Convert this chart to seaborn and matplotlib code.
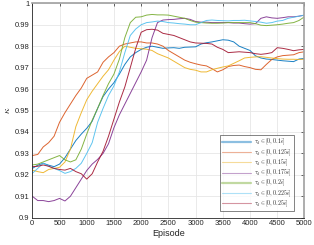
import pandas as pd
import matplotlib
matplotlib.use("Agg")
import matplotlib.pyplot as plt
from matplotlib.lines import Line2D
import seaborn as sns

# データ (図から読み取った値, 100 エピソードごと)
episodes = list(range(0, 5001, 100))

k_010 = [.923, .9245, .9254, .9245, .9238, .925, .928, .932, .936, .939,
         .9417, .945, .951, .9565, .960, .963, .967, .9715, .975, .977,
         .9785, .9795, .980, .9795, .979, .9792, .9793, .979, .9795, .9796,
         .9797, .981, .9816, .982, .9825, .983, .9828, .982, .980, .979,
         .978, .9755, .9745, .974, .9738, .9735, .9732, .973, .9728, .974, .9743]
k_0125 = [.929, .9295, .933, .935, .938, .9445, .949, .953, .957, .9605,
          .965, .9665, .968, .9725, .975, .977, .980, .981, .9815, .982,
          .982, .9815, .9815, .981, .980, .978, .9765, .975, .9735, .9725,
          .9718, .9712, .9708, .9695, .968, .969, .9705, .971, .9712, .9705,
          .970, .9692, .969, .9715, .9738, .975, .9756, .9758, .976, .977, .9774]
k_015 = [.9222, .9215, .921, .9225, .923, .9235, .926, .932, .9425, .949,
         .955, .959, .9625, .966, .969, .9735, .9775, .980, .9795, .979,
         .9788, .9786, .978, .9765, .9755, .9745, .973, .9715, .970, .9692,
         .9688, .968, .968, .969, .9697, .9703, .9708, .972, .9732, .9745,
         .9748, .975, .9751, .9748, .9745, .9742, .974, .9739, .9739, .9738, .9739]
k_0175 = [.910, .908, .908, .9075, .908, .909, .9078, .910, .914, .918,
          .922, .925, .9272, .930, .9345, .942, .948, .953, .958, .963,
          .968, .9735, .984, .991, .9922, .9924, .9925, .9928, .993, .9925,
          .9915, .9912, .9912, .991, .991, .991, .991, .9908, .9908, .9905,
          .9903, .9905, .993, .9937, .9932, .993, .9933, .9937, .9937, .994, .9945]
k_020 = [.9246, .925, .926, .927, .928, .929, .927, .926, .927, .932,
         .939, .9455, .951, .957, .9625, .967, .974, .984, .991, .9935,
         .9937, .9945, .9948, .9946, .9946, .9945, .994, .9935, .993, .992,
         .9912, .991, .9908, .9907, .9907, .9908, .991, .991, .991, .991,
         .991, .9905, .9898, .9896, .9898, .990, .9903, .9907, .991, .992, .9937]
k_0225 = [.9207, .923, .9254, .924, .923, .922, .9207, .9215, .923, .9254,
          .930, .935, .9445, .951, .957, .9615, .968, .977, .985, .988,
          .990, .991, .9913, .9917, .9915, .991, .9908, .9905, .9903, .990,
          .990, .991, .992, .9922, .992, .9919, .9918, .992, .992, .9921,
          .9918, .9915, .9912, .9907, .991, .9917, .992, .993, .9935, .994, .9945]
k_025 = [.9238, .924, .9246, .924, .923, .9225, .9222, .923, .9215, .9205,
         .918, .9205, .926, .931, .938, .946, .954, .961, .970, .979,
         .9865, .9877, .9879, .9875, .986, .9855, .985, .984, .983, .982,
         .9815, .9814, .9813, .981, .9795, .9785, .977, .9772, .9774, .9772,
         .977, .9765, .9762, .9765, .977, .9793, .979, .9785, .9779, .9783, .9785]

labels = [r'$\tau_d \in [0, 0.1\bar{e}]$', r'$\tau_d \in [0, 0.125\bar{e}]$',
          r'$\tau_d \in [0, 0.15\bar{e}]$', r'$\tau_d \in [0, 0.175\bar{e}]$',
          r'$\tau_d \in [0, 0.2\bar{e}]$', r'$\tau_d \in [0, 0.225\bar{e}]$',
          r'$\tau_d \in [0, 0.25\bar{e}]$']
series = [k_010, k_0125, k_015, k_0175, k_020, k_0225, k_025]

# MATLAB 標準の配色
colors = ['#0072BD', '#D95319', '#EDB120', '#7E2F8E', '#77AC30', '#4DBEEE', '#A2142F']

rows = []
for lab, vals in zip(labels, series):
    for ep, v in zip(episodes, vals):
        rows.append({'Episode': ep, 'kappa': v, 'case': lab})
df = pd.DataFrame(rows)

sns.set_theme(style="whitegrid")
plt.rcParams['font.family'] = ['Liberation Sans', 'DejaVu Sans']
plt.rcParams['mathtext.fontset'] = 'cm'

fig = plt.figure(figsize=(3.14, 2.45), dpi=100)
ax = fig.add_axes([0.1029, 0.1114, 0.8667, 0.8751])

sns.lineplot(data=df, x='Episode', y='kappa', hue='case', palette=colors,
             linewidth=0.7, alpha=0.9, ax=ax, legend=False)

ax.set_xlim(0, 5000)
ax.set_ylim(0.9, 1.0)
ax.set_xticks(range(0, 5001, 500))
ax.set_yticks([0.9, 0.91, 0.92, 0.93, 0.94, 0.95, 0.96, 0.97, 0.98, 0.99, 1.0])
ax.set_yticklabels(['0.9', '0.91', '0.92', '0.93', '0.94', '0.95', '0.96',
                    '0.97', '0.98', '0.99', '1'])
ax.set_facecolor('white')
ax.grid(True, color='#E6E6E6', linewidth=0.6)
ax.tick_params(direction='in', length=2.5, width=0.5, labelsize=5.5, colors='#262626',
               top=True, right=True, pad=2)
for side in ['left', 'bottom']:
    ax.spines[side].set_color('#262626')
    ax.spines[side].set_linewidth(0.6)
for side in ['top', 'right']:
    ax.spines[side].set_color('#A0A0A0')
    ax.spines[side].set_linewidth(1.2)

ax.set_xlabel('Episode', fontsize=6.5, color='#262626', labelpad=1)
ax.set_ylabel(r'$\kappa$', fontsize=7, color='#262626', labelpad=2)

handles = []
for i, c in enumerate(colors):
    lw = 1.6 if i in (0, 4) else 0.8
    handles.append(Line2D([0], [0], color=c, lw=lw, alpha=0.45))
leg = ax.legend(handles, labels, loc='lower right', bbox_to_anchor=(0.962, 0.031),
                borderaxespad=0, fontsize=4.3, frameon=True, fancybox=False,
                handlelength=4.8, handletextpad=0.5, labelspacing=0.0,
                borderpad=0.35)
leg.get_frame().set_edgecolor('#262626')
leg.get_frame().set_linewidth(0.5)

plt.savefig('out.png', dpi=100)
